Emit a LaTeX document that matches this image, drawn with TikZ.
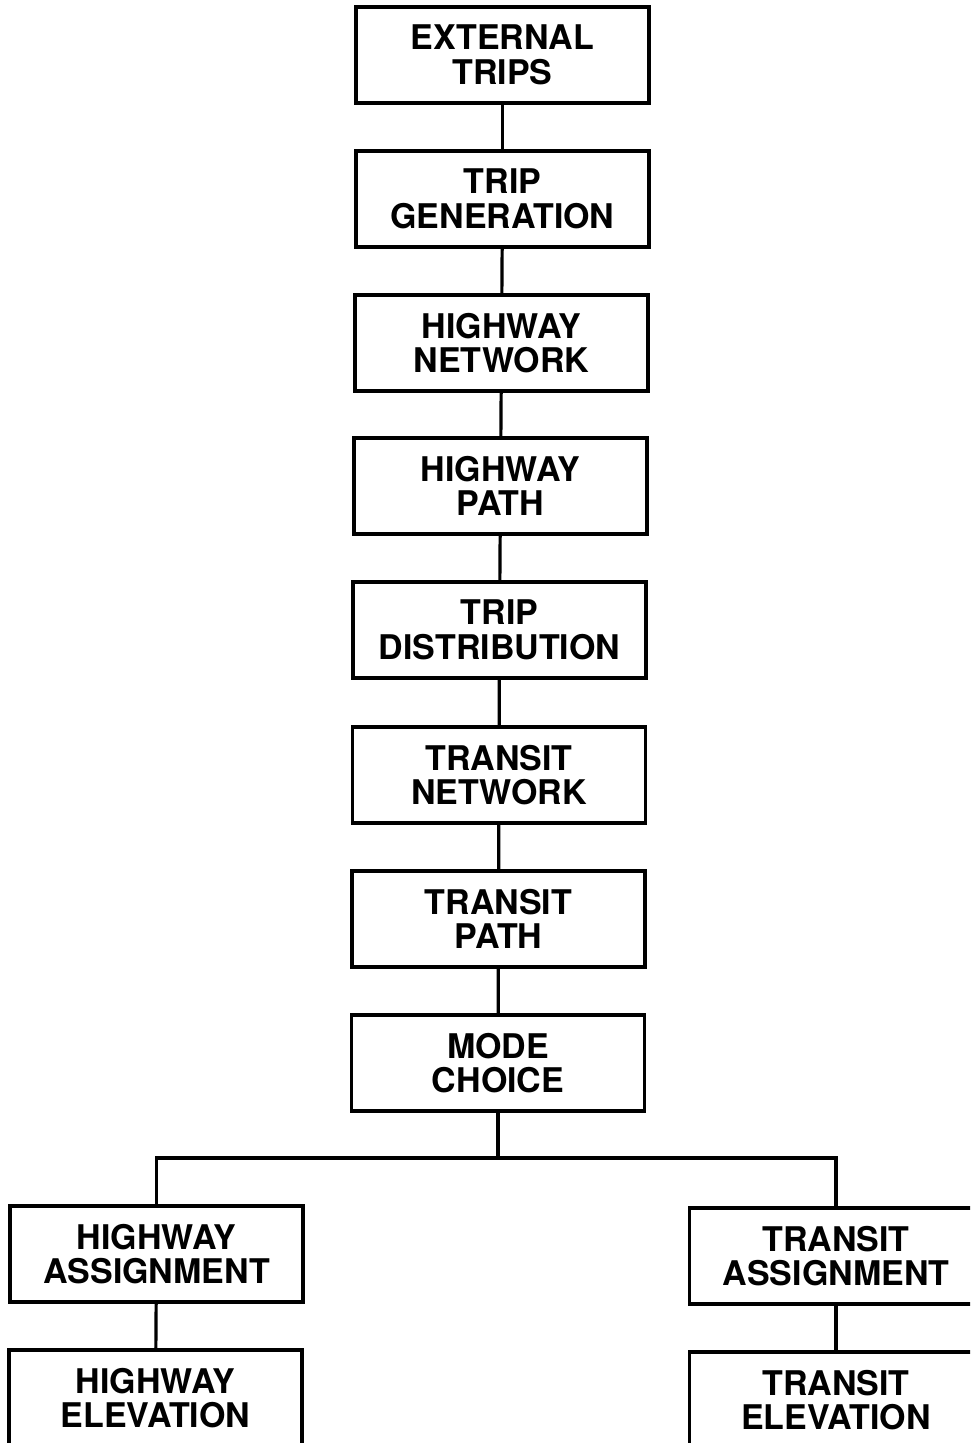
\documentclass[tikz,border=0pt]{standalone}
\usepackage{fontspec}
\setmainfont{TeX Gyre Heros}
\begin{document}
\begin{tikzpicture}[x=1pt,y=-1pt,
  box/.style={draw, line width=3.2pt, minimum width=293pt, minimum height=96pt,
    inner sep=0pt, align=center, font=\bfseries\fontsize{34}{34.5}\selectfont},
  link/.style={line width=3.2pt}]
\useasboundingbox (0,0) rectangle (970,1443);
\clip (0,0) rectangle (970,1443);
\node[box] (ext) at (502.5,55) {EXTERNAL\\TRIPS};
\node[box] (gen) at (502.5,199) {TRIP\\GENERATION};
\node[box] (hnet) at (501.5,343) {HIGHWAY\\NETWORK};
\node[box] (hpath) at (500.5,486) {HIGHWAY\\PATH};
\node[box] (dist) at (499.5,630) {TRIP\\DISTRIBUTION};
\node[box] (tnet) at (499,775) {TRANSIT\\NETWORK};
\node[box] (tpath) at (498.5,919) {TRANSIT\\PATH};
\node[box] (mode) at (498,1063) {MODE\\CHOICE};
\node[box] (hasg) at (156.5,1254) {HIGHWAY\\ASSIGNMENT};
\node[box] (tasg) at (836,1256) {TRANSIT\\ASSIGNMENT};
\node[box] (hel) at (155.5,1398) {HIGHWAY\\ELEVATION};
\node[box] (tel) at (836,1400) {TRANSIT\\ELEVATION};
\coordinate (j) at (498,1158);
\draw[link] (ext) -- (gen);
\draw[link] (gen) -- (hnet);
\draw[link] (hnet) -- (hpath);
\draw[link] (hpath) -- (dist);
\draw[link] (dist) -- (tnet);
\draw[link] (tnet) -- (tpath);
\draw[link] (tpath) -- (mode);
\draw[link] (mode) -- (j);
\draw[link] (hasg.north) |- (j) -| (tasg.north);
\draw[link] (hasg) -- (hel);
\draw[link] (tasg) -- (tel);
\end{tikzpicture}
\end{document}
